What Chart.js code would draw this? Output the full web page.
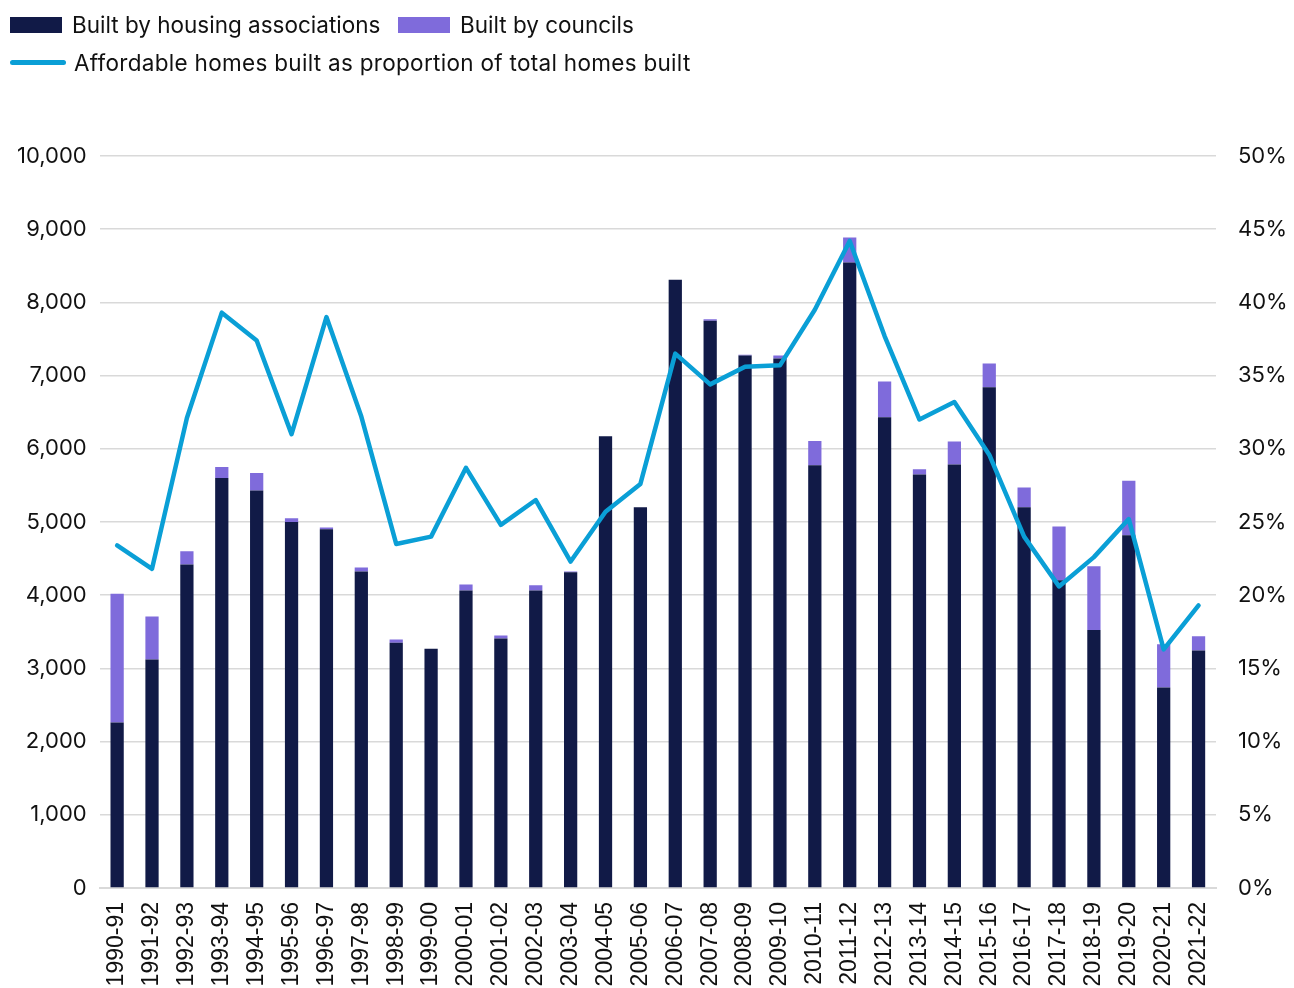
<!DOCTYPE html>
<html><head><meta charset="utf-8">
<script src="https://cdn.jsdelivr.net/npm/chart.js@4.4.1/dist/chart.umd.min.js"></script>
<style>
html,body{margin:0;padding:0;background:#fff;}
#wrap{position:relative;width:1294px;height:988px;}
#c{position:absolute;left:0;top:0;}
.lg{position:absolute;font-family:Inter,"Noto Sans",sans-serif;font-size:22.5px;color:#111;white-space:nowrap;}
.box{position:absolute;}
</style></head><body>
<div id="wrap">
<canvas id="c" width="1294" height="988"></canvas>
<div class="box" style="left:10px;top:17px;width:52px;height:16px;background:#111a47"></div>
<div class="lg" style="left:72px;top:11px">Built by housing associations</div>
<div class="box" style="left:398px;top:17px;width:52px;height:16px;background:#7f6bdb"></div>
<div class="lg" style="left:460px;top:11px">Built by councils</div>
<div class="box" style="left:10px;top:60px;width:56px;height:5px;border-radius:3px;background:#0a9fd6"></div>
<div class="lg" style="left:74px;top:49px;letter-spacing:0.3px">Affordable homes built as proportion of total homes built</div>
</div>
<script>
const categories = ["1990-91","1991-92","1992-93","1993-94","1994-95","1995-96","1996-97","1997-98","1998-99","1999-00","2000-01","2001-02","2002-03","2003-04","2004-05","2005-06","2006-07","2007-08","2008-09","2009-10","2010-11","2011-12","2012-13","2013-14","2014-15","2015-16","2016-17","2017-18","2018-19","2019-20","2020-21","2021-22"];
const housingAssociations = [2260,3120,4420,5600,5430,5000,4900,4325,3350,3270,4065,3410,4065,4315,6170,5200,8310,7750,7275,7235,5775,8545,6430,5650,5785,6840,5200,4205,3525,4820,2740,3245];
const councils = [1760,590,180,150,240,50,25,55,45,0,80,40,70,10,0,0,0,20,10,40,330,340,490,70,315,325,270,735,870,745,590,195];
const affordableShare = [23.4,21.8,32.1,39.3,37.4,31.0,39.0,32.2,23.5,24.0,28.7,24.8,26.5,22.3,25.7,27.6,36.5,34.4,35.6,35.7,39.5,44.2,37.7,32.0,33.2,29.6,24.0,20.6,22.6,25.2,16.3,19.3];
const leftTicks = [0,1000,2000,3000,4000,5000,6000,7000,8000,9000,10000];
const rightTicks = [0,5,10,15,20,25,30,35,40,45,50];

const tickFont = {family:"Inter, 'Noto Sans', sans-serif", size:22};
new Chart(document.getElementById('c'), {
  data: {
    labels: categories,
    datasets: [
      {type:'line', label:'Affordable homes built as proportion of total homes built', data:affordableShare, yAxisID:'y1', borderColor:'#0a9fd6', borderWidth:4.5, pointRadius:0, tension:0, order:0, borderJoinStyle:'round', borderCapStyle:'round'},
      {type:'bar', label:'Built by housing associations', data:housingAssociations, backgroundColor:'#111a47', yAxisID:'y', stack:'s', order:1, barPercentage:0.38, categoryPercentage:1},
      {type:'bar', label:'Built by councils', data:councils, backgroundColor:'#7f6bdb', yAxisID:'y', stack:'s', order:2, barPercentage:0.38, categoryPercentage:1}
    ]
  },
  options: {
    responsive:false, animation:false,
    layout:{padding:{top:156,left:4,right:0,bottom:0}},
    plugins:{legend:{display:false}, tooltip:{enabled:false}},
    scales:{
      x:{stacked:true, grid:{display:false, drawTicks:false}, border:{color:'#d9d9d9', width:2},
         afterFit:(ax)=>{ax.height = 100;},
         ticks:{minRotation:90, maxRotation:90, autoSkip:false, color:'#111', padding:14, font:{family:"'Liberation Sans', Arial, sans-serif", size:23}}},
      y:{stacked:true, min:0, max:10000, position:'left',
         afterBuildTicks:(ax)=>{ax.ticks = leftTicks.map(v=>({value:v}));},
         grid:{color:'#d9d9d9', lineWidth:1.5, drawTicks:false}, border:{display:false},
         ticks:{color:'#111', padding:13, font:tickFont, callback:(v)=>v.toLocaleString('en-US')}},
      y1:{min:0, max:50, position:'right',
         afterBuildTicks:(ax)=>{ax.ticks = rightTicks.map(v=>({value:v}));},
         afterFit:(ax)=>{ax.width = 78;},
         grid:{display:false, drawTicks:false}, border:{display:false},
         ticks:{color:'#111', padding:22, font:tickFont, callback:(v)=>v+'%'}}
    }
  }
});
</script>
</body></html>
